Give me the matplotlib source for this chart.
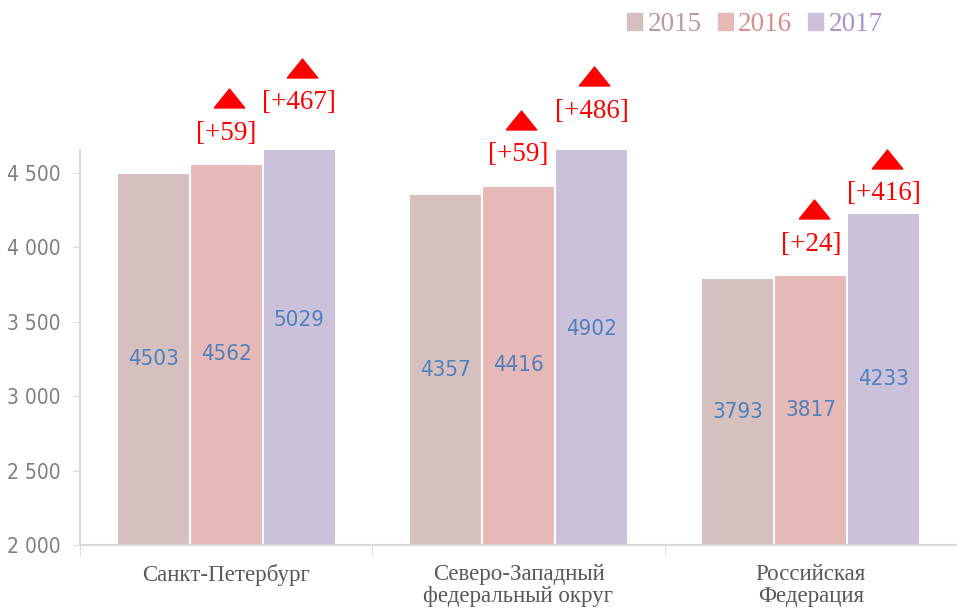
import numpy as np
import matplotlib.pyplot as plt
from matplotlib.transforms import ScaledTranslation
from matplotlib.ticker import FuncFormatter, FixedLocator

# data
regions = ['Санкт-Петербург', 'Северо-Западный\nфедеральный округ', 'Российская\nФедерация']
years = ['2015', '2016', '2017']
v2015 = [4503, 4357, 3793]
v2016 = [4562, 4416, 3817]
v2017 = [5029, 4902, 4233]
d2016 = [59, 59, 24]
d2017 = [467, 486, 416]

bar_colors = ['#d5bfbf', '#e6b8b7', '#ccc1da']
leg_text = ['#b89b9b', '#dd8a8a', '#a993c9']

serif = ['Liberation Serif', 'DejaVu Serif']

# vertical offset (points) of the change labels above the visible bar top
lab_off = {1: [22, 22, 22], 2: [34, 28, 14]}

fig = plt.figure(figsize=(9.57, 6.12), dpi=100)
ax = fig.add_axes([0.0836, 0.1095, 0.9164, 0.6455])

ymin, ymax = 2000, 4655
x = np.arange(len(regions))
w = 0.25
series = [v2015, v2016, v2017]
for i, vals in enumerate(series):
    xs = x + (i - 1) * w
    ax.bar(xs, np.array(vals) - ymin, bottom=ymin, width=w, color=bar_colors[i],
           edgecolor='white', linewidth=1.5)
    for xx, v in zip(xs, vals):
        ax.text(xx, (ymin + v) / 2, str(v), ha='center', va='center',
                color='#4f81bd', fontsize=16, family='DejaVu Sans', fontstretch='condensed')

# change labels and red triangles above 2016/2017 bars
tri = [(-1, -0.62), (1, -0.62), (0, 0.62), (-1, -0.62)]
for i, diffs in ((1, d2016), (2, d2017)):
    vals = series[i]
    xs = x + (i - 1) * w
    for xx, v, d, off in zip(xs, vals, diffs, lab_off[i]):
        top = min(v, ymax)
        ax.annotate('[+%d]' % d, (xx, top), xytext=(0, off), textcoords='offset points',
                    ha='center', va='center', color='red', fontsize=19.5, family=serif,
                    annotation_clip=False)
        ax.plot([xx], [top], marker=tri, ms=22, color='red', linestyle='none',
                clip_on=False,
                transform=ax.transData + ScaledTranslation(
                    2 / 72, (off + 25) / 72, fig.dpi_scale_trans))

ax.set_xlim(-0.5, 2.5)
ax.set_ylim(ymin, ymax)

ax.yaxis.set_major_locator(FixedLocator([2000, 2500, 3000, 3500, 4000, 4500]))
ax.yaxis.set_major_formatter(FuncFormatter(lambda v, p: '{:,}'.format(int(v)).replace(',', ' ')))
ax.tick_params(axis='y', direction='out', length=5, color='#d9d9d9', labelcolor='#7f7f7f',
               labelsize=15, pad=9)
for t in ax.get_yticklabels():
    t.set_family('DejaVu Sans')
    t.set_fontstretch('condensed')

ax.set_xticks(x)
ax.set_xticklabels(regions, family=serif, fontsize=16.5, color='#595959', va='top',
                   linespacing=1.05)
ax.tick_params(axis='x', length=0, pad=14)
ax.set_xticks([-0.5, 0.5, 1.5, 2.5], minor=True)
ax.tick_params(axis='x', which='minor', length=8, color='#d9d9d9')

for s in ['top', 'right']:
    ax.spines[s].set_visible(False)
ax.spines['left'].set_color('#d9d9d9')
ax.spines['bottom'].set_color('#d9d9d9')
ax.spines['left'].set_linewidth(1.5)
ax.spines['bottom'].set_linewidth(1.5)

# legend
handles = [plt.Rectangle((0, 0), 1, 1, color=c) for c in bar_colors]
leg = fig.legend(handles, years, loc='upper right', bbox_to_anchor=(0.948, 1.02), ncol=3,
                 frameon=False, prop={'family': serif, 'size': 19.5}, handlelength=0.55,
                 handleheight=0.55, handletextpad=0.2, columnspacing=0.6)
for t, c in zip(leg.get_texts(), leg_text):
    t.set_color(c)

fig.savefig('out.png', dpi=100)
